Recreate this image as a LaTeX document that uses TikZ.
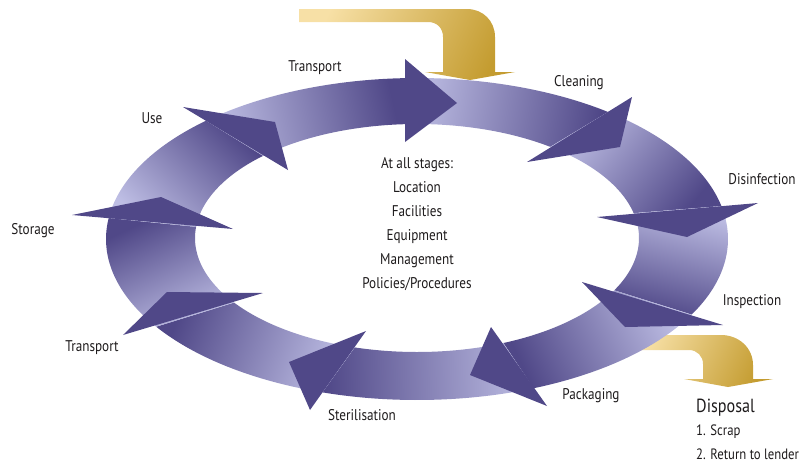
\documentclass[tikz,border=0pt]{standalone}
\usepackage{fontspec}
\setmainfont{PT Sans}[FakeStretch=0.85]
\definecolor{darkp}{RGB}{80,72,136}
\definecolor{lightp}{RGB}{190,190,228}
\definecolor{goldL}{RGB}{247,224,166}
\definecolor{goldD}{RGB}{196,156,48}
\definecolor{ink}{RGB}{30,27,28}
\newcommand{\ringbody}[4]{%
  \pgfmathsetmacro{\tma}{(#1+#2)/2}%
  \pgfmathsetmacro{\hma}{(#3+#4)/2}%
  \pgfmathsetmacro{\ddx}{266.5*(cos(\hma)-cos(\tma))}%
  \pgfmathsetmacro{\ddy}{137.5*(sin(\hma)-sin(\tma))}%
  \pgfmathsetmacro{\shang}{atan2(\ddy,\ddx)+90}%
  \path[top color=lightp,bottom color=darkp,shading angle=\shang]
    plot[domain=#1:#3,samples=40] ({417+311*cos(\x)},{239-161*sin(\x)})
    -- plot[domain=#4:#2,samples=40] ({417+222*cos(\x)},{238-114*sin(\x)}) -- cycle;}
\newcommand{\ringhead}[3]{%
  \fill[headfill] #1 -- #2 -- #3 -- cycle;}
\tikzset{
  lbl/.style={font=\fontsize{15.5}{18}\selectfont, inner sep=0pt, text=ink},
  headfill/.style={fill=darkp},
  goldarrow/.style={top color=goldL,bottom color=goldD,shading angle=65},
}
\begin{document}
\begin{tikzpicture}[x=1pt,y=-1pt]
\useasboundingbox (0,0) rectangle (810,464);
% gold arrows (under the ring)
\path[goldarrow]
  (299,9) -- (467,9) .. controls (483,9) and (495,21) .. (495,37) -- (495,72)
  -- (515,72) -- (470,80) -- (425,72) -- (443,72) -- (443,37)
  .. controls (443,28) and (437,22) .. (428,22) -- (299,22) -- cycle;
\path[goldarrow]
  (630,335) -- (721,335) .. controls (739,335) and (753,348) .. (753,365) -- (753,379)
  -- (773,379) -- (728,387) -- (684,379) -- (703,379) -- (703,364)
  .. controls (703,356) and (697,350) .. (689,350) -- (630,350) -- cycle;
% ring bodies
\ringbody{92.2}{93.1}{52.1}{53.1}
\ringbody{52.1}{53.1}{11.8}{12.6}
\ringbody{11.8}{12.6}{-28.0}{-27.3}
\ringbody{-28.0}{-27.3}{-68.0}{-67.1}
\ringbody{-68.0}{-67.1}{-107.7}{-106.3}
\ringbody{-107.7}{-106.3}{-147.0}{-145.5}
\ringbody{-147.0}{-145.5}{-187.5}{-185.6}
\ringbody{-187.5}{-185.6}{-227.3}{-226.1}
\ringbody{-227.3}{-226.1}{-267.8}{-266.9}
% heads
\ringhead{(405,59)}{(457,103)}{(405,142)}
\ringhead{(632,97)}{(620,147)}{(527,162)}
\ringhead{(758,203)}{(687,237)}{(597,217)}
\ringhead{(723,325)}{(625,327)}{(582,282)}
\ringhead{(547,406)}{(470,375)}{(491,327)}
\ringhead{(310,410)}{(289,362)}{(366,331)}
\ringhead{(123,335)}{(167,292)}{(263,293)}
\ringhead{(72,215)}{(161,197)}{(233,229)}
\ringhead{(183,107)}{(275,122)}{(288,170)}
% labels
\node[lbl] (lTransTop) at (315,68) {Transport};
\node[lbl] (lClean) at (579,83) {Cleaning};
\node[lbl] (lDisinf) at (762,179) {Disinfection};
\node[lbl] (lInsp) at (752,302) {Inspection};
\node[lbl] (lPack) at (591,396) {Packaging};
\node[lbl] (lSter) at (362,415) {Sterilisation};
\node[lbl] (lTransL) at (92,348) {Transport};
\node[lbl] (lStor) at (33,231) {Storage};
\node[lbl] (lUse) at (152,118) {Use};
\node[lbl, align=center, font=\fontsize{15.5}{24}\selectfont, anchor=north] (center) at (417,157)
  {At all stages:\\Location\\Facilities\\Equipment\\Management\\Policies/Procedures};
\node[lbl, font=\fontsize{19}{22}\selectfont, anchor=west] (lDisp) at (696,408) {Disposal};
\node[lbl, font=\fontsize{15}{18}\selectfont, anchor=west] (lScrap) at (696,432) {1. Scrap};
\node[lbl, font=\fontsize{15}{18}\selectfont, anchor=west] (lReturn) at (696,454) {2. Return to lender};
\end{tikzpicture}
\end{document}
